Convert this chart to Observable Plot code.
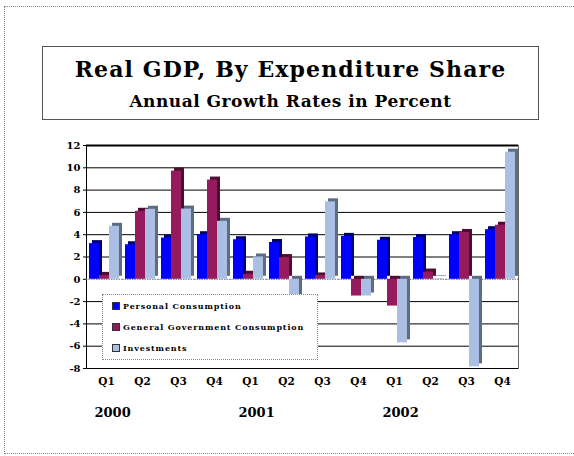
<!DOCTYPE html>
<html>
<head>
<meta charset="utf-8">
<script src="https://cdn.jsdelivr.net/npm/d3@7"></script>
<script src="https://cdn.jsdelivr.net/npm/@observablehq/plot@0.6"></script>
<style>
  html, body { margin:0; padding:0; background:#fff; }
  body { width:574px; height:456px; position:relative; overflow:hidden; font-family:'DejaVu Serif', serif; }
  #outer { position:absolute; left:4px; top:6px; width:600px; height:448px; border:1px dotted #888; box-sizing:border-box; }
  #titlebox { position:absolute; left:42px; top:46px; width:497px; height:74px; border:1px solid #555; box-sizing:border-box; text-align:center; font-weight:bold; color:#000; }
  #title { font-size:22px; line-height:25px; margin-top:10px; letter-spacing:1.1px; }
  #subtitle { font-size:17px; line-height:20px; margin-top:9px; letter-spacing:0.5px; }
  #chart { position:absolute; left:0; top:130px; }
  #legend { position:absolute; left:102px; top:294px; width:216px; height:66px; border:1px dotted #888; background:#fff; box-sizing:border-box; padding-top:1px; }
  .row { height:21px; line-height:21px; font-size:8px; font-weight:bold; letter-spacing:0.85px; padding-left:9px; white-space:nowrap; }
  .sw { display:inline-block; width:6px; height:6px; border:0.5px solid #333; margin-right:3px; vertical-align:-0.5px; }
</style>
</head>
<body>
<div id="outer"></div>
<div id="titlebox">
  <div id="title">Real GDP, By Expenditure Share</div>
  <div id="subtitle">Annual Growth Rates in Percent</div>
</div>
<div id="chart"></div>
<div id="legend"></div>
<script>
const quarters = ["Q1", "Q2", "Q3", "Q4"];
const years = ["2000", "2001", "2002"];
const series = ["Personal Consumption", "General Government Consumption", "Investments"];
const colors = ["#0000ff", "#961b5e", "#aabfe3"];
const shadeColors = ["#00006e", "#4f0d30", "#5f6b80"];
const personal    = [3.2, 3.1, 3.7, 4.0, 3.55, 3.3, 3.8, 3.85, 3.5, 3.75, 4.0, 4.45];
const government  = [0.35, 6.1, 9.7, 8.9, 0.45, 1.95, 0.3, -1.5, -2.4, 0.65, 4.2, 4.85];
const investments = [4.75, 6.28, 6.3, 5.2, 2.0, -1.8, 6.95, -1.5, -5.7, 0.05, -7.85, 11.4];
const yTicks = [-8, -6, -4, -2, 0, 2, 4, 6, 8, 10, 12];

const periods = years.flatMap(y => quarters.map(q => `${y} ${q}`));
const seriesValues = [personal, government, investments];
const table = periods.flatMap((p, i) => seriesValues.map((vals, j) => ({
  period: p, series: series[j], value: vals[i], color: colors[j], shade: shadeColors[j]
})));

const chart = Plot.plot({
  width: 574, height: 300,
  marginLeft: 85, marginRight: 55, marginTop: 15, marginBottom: 62,
  style: { fontFamily: "'DejaVu Serif', serif", fontWeight: "bold", fontSize: "10px", background: "transparent", overflow: "visible", color: "#000" },
  fx: { domain: periods, padding: 0, axis: null },
  x: { domain: series, paddingInner: 0, paddingOuter: 0.22, axis: null },
  y: { domain: [-8, 12], ticks: yTicks, tickFormat: d => String(d), tickSize: 3, tickPadding: 3, line: true, label: null },
  marks: [
    Plot.ruleY(yTicks.filter(t => t !== 0 && t !== 12), { stroke: "#000", strokeWidth: 1 }),
    Plot.ruleY([12], { stroke: "#000", strokeWidth: 2 }),
    Plot.ruleY([0], { stroke: "#777", strokeDasharray: "1.5,1" }),
    Plot.frame({ anchor: "right", stroke: "#666", facet: "super" }),
    Plot.barY(table, { fx: "period", x: "series", y: "value", fill: "shade", dx: 3, dy: -3 }),
    Plot.barY(table, { fx: "period", x: "series", y: "value", fill: "color" }),
    Plot.text(periods, { fx: d => d, text: d => d.split(" ")[1], frameAnchor: "bottom", dx: 2, dy: 16, fontSize: 10.5 }),
    Plot.text(years, { fx: d => `${d} Q1`, text: d => d, frameAnchor: "bottom-left", textAnchor: "start", dx: 8, dy: 48, fontSize: 13 })
  ]
});
document.getElementById("chart").appendChild(chart);

const legend = document.getElementById("legend");
series.forEach((s, i) => {
  const row = document.createElement("div");
  row.className = "row";
  const sw = document.createElement("span");
  sw.className = "sw";
  sw.style.background = colors[i];
  row.appendChild(sw);
  row.appendChild(document.createTextNode(s));
  legend.appendChild(row);
});
</script>
</body>
</html>
